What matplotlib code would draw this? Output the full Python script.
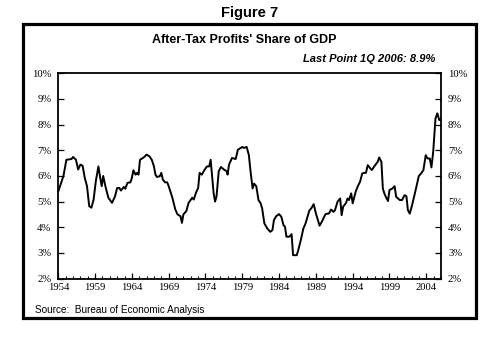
import numpy as np
import matplotlib
matplotlib.use('Agg')
import matplotlib.pyplot as plt
from matplotlib.patches import Rectangle
from matplotlib.ticker import MultipleLocator, FuncFormatter

# data (year, after-tax profits as % of GDP)
years = [1954.0, 1954.7, 1955.1, 1955.8, 1956.0, 1956.4, 1956.7, 1957.0, 1957.3, 1957.6,
         1957.9, 1958.2, 1958.5, 1958.8, 1959.1, 1959.45, 1959.7, 1959.9, 1960.1, 1960.4,
         1960.8, 1961.3, 1961.7, 1962.0, 1962.3, 1962.5, 1962.9, 1963.1, 1963.4, 1963.8,
         1964.0, 1964.2, 1964.5, 1964.7, 1964.9, 1965.1, 1965.6, 1966.0, 1966.4, 1966.7,
         1967.0, 1967.2, 1967.4, 1967.8, 1968.0, 1968.2, 1968.5, 1968.8, 1969.0, 1969.5,
         1969.9, 1970.2, 1970.6, 1970.8, 1971.0, 1971.4, 1971.7, 1972.2, 1972.4, 1972.7,
         1973.0, 1973.2, 1973.5, 1973.9, 1974.2, 1974.5, 1974.7, 1974.9, 1975.1, 1975.3,
         1975.5, 1975.8, 1976.1, 1976.5, 1976.9, 1977.0, 1977.2, 1977.6, 1978.1, 1978.4,
         1978.8, 1979.0, 1979.2, 1979.6, 1979.9, 1980.1, 1980.4, 1980.6, 1980.9, 1981.2,
         1981.5, 1981.7, 1982.0, 1982.4, 1982.8, 1983.1, 1983.3, 1983.6, 1984.0, 1984.3,
         1984.6, 1984.8, 1985.0, 1985.4, 1985.7, 1985.9, 1986.4, 1986.6, 1986.95, 1987.3,
         1987.6, 1988.1, 1988.45, 1988.7, 1989.0, 1989.5, 1989.8, 1990.3, 1990.8, 1991.05,
         1991.4, 1991.6, 1991.95, 1992.3, 1992.5, 1992.7, 1993.1, 1993.3, 1993.5, 1993.8,
         1994.0, 1994.4, 1994.7, 1995.0, 1995.3, 1995.6, 1995.8, 1996.05, 1996.4, 1996.6,
         1996.95, 1997.4, 1997.6, 1997.9, 1998.1, 1998.3, 1998.5, 1998.8, 1999.0, 1999.4,
         1999.7, 1999.9, 2000.4, 2000.7, 2001.05, 2001.3, 2001.5, 2001.75, 2002.07, 2002.5,
         2002.98, 2003.35, 2003.6, 2003.93, 2004.16, 2004.48, 2004.7, 2004.94, 2005.25, 2005.5,
         2005.76, 2005.98]
share = [5.4, 6.0, 6.63, 6.66, 6.74, 6.63, 6.25, 6.44, 6.4, 5.92,
         5.6, 4.82, 4.76, 5.08, 5.8, 6.37, 5.92, 5.6, 6.0, 5.6,
         5.15, 4.95, 5.2, 5.53, 5.53, 5.43, 5.57, 5.5, 5.73, 5.75,
         5.92, 6.22, 6.05, 6.12, 6.05, 6.63, 6.72, 6.83, 6.76, 6.63,
         6.37, 6.05, 5.96, 5.99, 6.12, 5.86, 5.75, 5.75, 5.6, 5.15,
         4.69, 4.5, 4.43, 4.17, 4.5, 4.63, 4.95, 5.15, 5.08, 5.34,
         5.53, 6.12, 6.05, 6.25, 6.37, 6.37, 6.63, 6.0, 5.34, 5.0,
         5.2, 6.18, 6.35, 6.25, 6.18, 6.05, 6.44, 6.7, 6.66, 7.02,
         7.09, 7.13, 7.09, 7.13, 6.8, 6.23, 5.51, 5.7, 5.6, 5.06,
         4.93, 4.73, 4.15, 3.95, 3.82, 3.89, 4.28, 4.43, 4.51, 4.41,
         4.08, 4.02, 3.63, 3.63, 3.73, 2.91, 2.91, 3.1, 3.5, 3.95,
         4.15, 4.64, 4.77, 4.9, 4.54, 4.06, 4.21, 4.51, 4.54, 4.69,
         4.6, 4.67, 5.0, 5.12, 4.47, 4.8, 4.95, 5.12, 5.06, 5.32,
         4.93, 5.38, 5.6, 5.77, 6.1, 6.12, 6.12, 6.42, 6.29, 6.23,
         6.38, 6.55, 6.72, 6.55, 5.51, 5.32, 5.19, 5.02, 5.45, 5.51,
         5.6, 5.19, 5.06, 5.06, 5.25, 5.21, 4.67, 4.53, 4.86, 5.38,
         5.99, 6.12, 6.22, 6.81, 6.68, 6.68, 6.33, 6.94, 8.24, 8.44,
         8.18, 8.2]

year_ticks = np.arange(1954, 2005, 5)
pct_ticks = np.arange(2, 11, 1)

fig = plt.figure(figsize=(5, 3.38), dpi=100)
fig.patch.set_facecolor('white')

#moldura externa
fig.patches.append(Rectangle((0.046, 0.059), 0.906, 0.870, transform=fig.transFigure,
                             fill=False, edgecolor='black', linewidth=2.3))

fig.text(0.5, 1 - 13/338, 'Figure 7', ha='center', va='center',
         fontsize=10.5, fontweight='bold', family='Liberation Sans')
fig.text(0.488, 1 - 40/338, "After-Tax Profits' Share of GDP", ha='center', va='center',
         fontsize=9, fontweight='bold', family='Liberation Sans')
fig.text(0.87, 1 - 59/338, 'Last Point 1Q 2006: 8.9%', ha='right', va='center',
         fontsize=8, fontweight='bold', fontstyle='italic', family='Liberation Sans')
fig.text(0.07, 1 - 310/338, 'Source:  Bureau of Economic Analysis', ha='left', va='center',
         fontsize=7.2, family='Liberation Sans')

ax = fig.add_axes([0.1166, 0.176, 0.7654, 0.607])
ax.plot(years, share, color='black', linewidth=1.4)

ax.set_xlim(1954, 2006)
ax.set_ylim(2, 10)
ax.set_xticks(year_ticks)
ax.xaxis.set_minor_locator(MultipleLocator(1))
ax.set_yticks(pct_ticks)
ax.yaxis.set_major_formatter(FuncFormatter(lambda v, p: '%d%%' % v))

ax.tick_params(axis='x', which='major', direction='in', length=4, width=0.9, pad=3)
ax.tick_params(axis='x', which='minor', direction='in', length=2, width=0.8)
ax.tick_params(axis='y', direction='in', length=4, width=0.9, pad=5,
               left=True, right=True, labelleft=True, labelright=True)
for lab in ax.get_xticklabels() + ax.get_yticklabels():
    lab.set_family('Liberation Serif')
    lab.set_fontsize(7.7)

for s in ax.spines.values():
    s.set_linewidth(1.3)

fig.savefig('out.png', dpi=100)
